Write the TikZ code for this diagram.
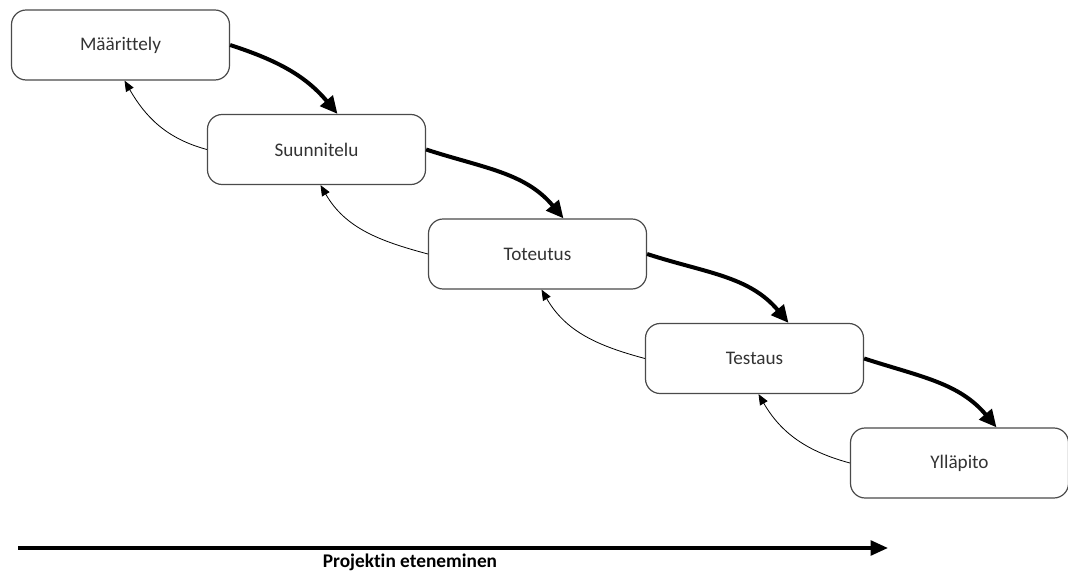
\documentclass[tikz,border=0pt]{standalone}
\usepackage{fontspec}
\setmainfont{Carlito}[Ligatures=NoCommon]
\usetikzlibrary{arrows.meta,calc}
\definecolor{boxline}{HTML}{4A4A4A}
\definecolor{txt}{HTML}{333333}

\begin{document}
\begin{tikzpicture}[x=0.75pt,y=-0.75pt,
  phase/.style={draw=boxline, line width=0.9pt, rounded corners=11pt, fill=white,
    text=txt, font=\fontsize{14.4}{17}\selectfont,
    minimum width=163.5pt, minimum height=52.5pt, inner sep=0pt},
  fwd/.style={line width=3pt, -{Triangle[length=13pt,width=12pt]}},
  back/.style={line width=0.6pt, -{Triangle[length=8pt,width=6.5pt]}},
  timeline/.style={line width=2.6pt, -{Triangle[length=13pt,width=11pt]}}]

\useasboundingbox (0,0) rectangle (1068,573);

% phases of the waterfall model
\node[phase] (m1) at (120.5,45)  {Määrittely};
\node[phase] (m2) at (316.5,149.5) {Suunnitelu};
\node[phase] (m3) at (537.5,254) {Toteutus};
\node[phase] (m4) at (754.5,358.5) {Testaus};
\node[phase] (m5) at (959.5,463) {Ylläpito};

% forward steps
\draw[fwd] (m1.east) to[out=-18,in=130] ($(m2.north)+(21,0)$);
\draw[fwd] (m2.east) to[out=-18,in=130] ($(m3.north)+(26,0)$);
\draw[fwd] (m3.east) to[out=-18,in=130] ($(m4.north)+(34,0)$);
\draw[fwd] (m4.east) to[out=-18,in=130] ($(m5.north)+(37,0)$);

% feedback to the previous phase
\draw[back] (m2.west) to[out=165,in=-60] ($(m1.south)+(4,0)$);
\draw[back] (m3.west) to[out=165,in=-60] ($(m2.south)+(4,0)$);
\draw[back] (m4.west) to[out=165,in=-60] ($(m3.south)+(4,0)$);
\draw[back] (m5.west) to[out=165,in=-60] ($(m4.south)+(4,0)$);

% project timeline
\coordinate (t0) at (18,548);
\coordinate (t1) at (888,548);
\draw[timeline] (t0) -- (t1);
\node[font=\bfseries\fontsize{14.5}{17}\selectfont, text=black] (lbl) at (410,562) {Projektin eteneminen};
\end{tikzpicture}
\end{document}
